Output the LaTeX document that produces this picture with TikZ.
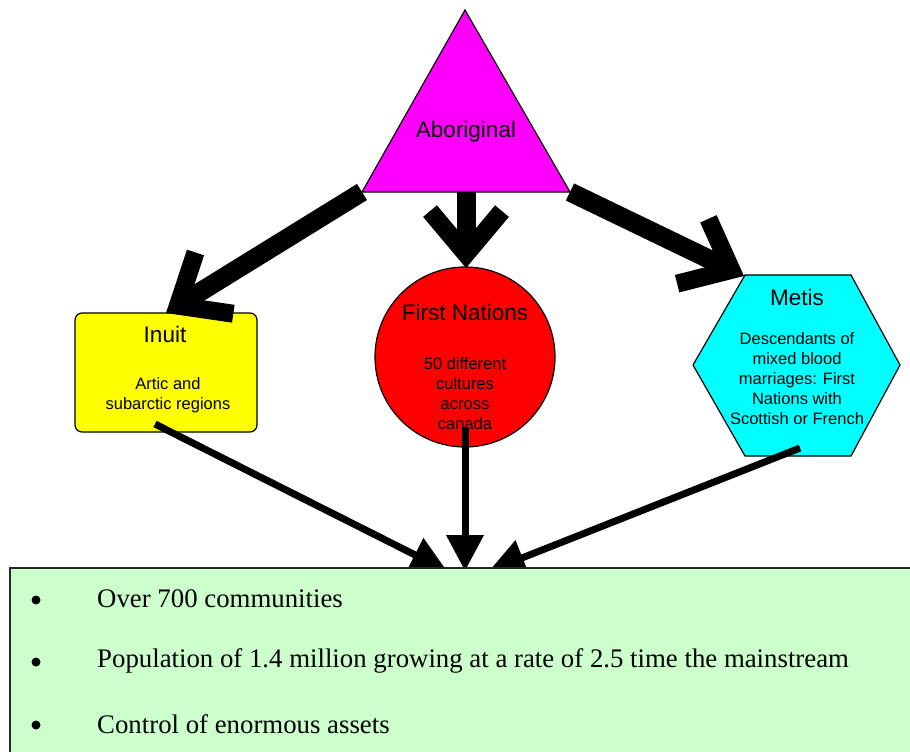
\documentclass[tikz,border=0pt]{standalone}
\usepackage{fontspec}
\setmainfont{Liberation Sans}
\newfontfamily\bodyserif{Liberation Serif}
\usetikzlibrary{calc,arrows.meta}
\definecolor{magentafill}{HTML}{FF00FF}
\definecolor{inuityellow}{HTML}{FFFF00}
\definecolor{fnred}{HTML}{FF0000}
\definecolor{metiscyan}{HTML}{00FFFF}
\definecolor{boxgreen}{HTML}{CCFFCC}
\tikzset{
  shapeborder/.style={draw=black, line width=1.2pt},
  headtext/.style={font=\fontsize{22.5}{26}\selectfont, text=black},
  bodytext/.style={font=\fontsize{16.5}{20}\selectfont, align=center, text=black},
  fatline/.style={line width=19pt, black, line cap=butt},
  fatbarb/.style={line width=18pt, black, line cap=butt, line join=miter, miter limit=10},
  thinarrow/.style={line width=7pt, black, -{Triangle[length=36pt, width=36pt]}},
  bullettext/.style={font=\bodyserif\fontsize{26.8}{30}\selectfont, anchor=west, inner sep=0pt, text=black},
  bulletdot/.style={circle, fill=black, inner sep=0pt, minimum size=9pt}
}
\begin{document}
\begin{tikzpicture}[x=1pt, y=-1pt]
\useasboundingbox (0,0) rectangle (910,752);

% --- Aboriginal triangle
\coordinate (triTop) at (465,10);
\coordinate (triL) at (362,192);
\coordinate (triR) at (570,192);
\coordinate (triB) at (466,192);
\filldraw[shapeborder, fill=magentafill] (triTop) -- (triL) -- (triR) -- cycle;
\node[headtext] (abor) at (466,132) {Aboriginal};

% --- Inuit box
\filldraw[shapeborder, fill=inuityellow, rounded corners=7pt] (75,313) rectangle (257,432);
\node[headtext] (inuit) at (165,334) {Inuit};
\node[bodytext] (inuitbody) at (168,395) {Artic and\\subarctic regions};
\coordinate (inuitTip) at (166,313);
\coordinate (inuitOut) at (155,424);

% --- First Nations circle
\filldraw[shapeborder, fill=fnred] (465,357) circle (90);
\node[headtext] (fn) at (465,312) {First Nations};
\node[bodytext] (fnbody) at (465,394) {50 different\\cultures\\across\\canada};
\coordinate (fnTip) at (466,268);
\coordinate (fnOut) at (465,427);

% --- Metis hexagon
\filldraw[shapeborder, fill=metiscyan] (745,275) -- (851,275) -- (900,365) -- (851,456) -- (745,456) -- (693,365) -- cycle;
\node[headtext] (metis) at (797,297) {Metis};
\node[bodytext] (metisbody) at (797,379) {Descendants of\\mixed blood\\marriages: First\\Nations with\\Scottish or French};
\coordinate (metisTip) at (744,276);
\coordinate (metisOut) at (800,448);

% --- fat arrows from Aboriginal
\foreach \s/\t in {triL/inuitTip, triB/fnTip, triR/metisTip}{
  \coordinate (c) at ($(\t)!14pt!(\s)$);
  \draw[fatline] (\s) -- (c);
  \draw[fatbarb] ($(c)!56pt!40:(\s)$) -- (c) -- ($(c)!56pt!-40:(\s)$);
}

% --- thin arrows to the summary box
\coordinate (boxInL) at (447,571);
\coordinate (boxInM) at (465,571);
\coordinate (boxInR) at (489,571);
\draw[thinarrow] (inuitOut) -- (boxInL);
\draw[thinarrow] (fnOut) -- (boxInM);
\draw[thinarrow] (metisOut) -- (boxInR);

% --- summary box
\filldraw[draw=black!85, line width=1.2pt, fill=boxgreen] (10,568) rectangle (916,760);
\node[bulletdot] (b1) at (36,600) {};
\node[bulletdot] (b2) at (36,662) {};
\node[bulletdot] (b3) at (36,725) {};
\node[bullettext] (t1) at (97,599) {Over 700 communities};
\node[bullettext] (t2) at (97,661) {Population of 1.4 million growing at a rate of 2.5 time the mainstream};
\node[bullettext] (t3) at (97,724) {Control of enormous assets};
\end{tikzpicture}
\end{document}
